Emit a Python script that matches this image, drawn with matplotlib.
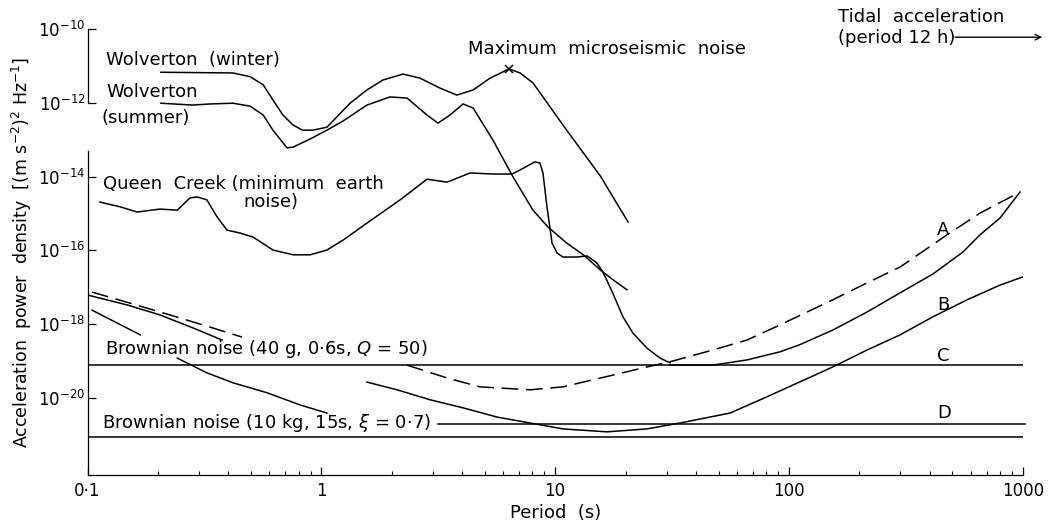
import numpy as np
import matplotlib
matplotlib.use("Agg")
import matplotlib.pyplot as plt
from matplotlib.ticker import FixedLocator, FixedFormatter, LogLocator, NullFormatter

plt.rcParams['font.family'] = ['DejaVu Sans']
plt.rcParams['mathtext.fontset'] = 'dejavusans'

# periods in s, power densities as log10 of (m s^-2)^2 Hz^-1
winter_period = [0.206, 0.419, 0.496, 0.564, 0.621, 0.685, 0.757, 0.83, 0.92, 1.057, 1.122, 1.327,
                 1.567, 1.836, 2.235, 2.642, 3.219, 3.8, 4.46, 5.27, 6.35, 7.08, 8.04, 11.2, 15.6, 20.5]
winter_log = [-11.17, -11.19, -11.29, -11.51, -11.92, -12.33, -12.60, -12.74, -12.74, -12.66, -12.49,
              -12.01, -11.65, -11.38, -11.22, -11.33, -11.60, -11.79, -11.65, -11.33, -11.08, -11.19,
              -11.46, -12.74, -13.98, -15.23]

summer_period = [0.206, 0.282, 0.334, 0.419, 0.496, 0.564, 0.621, 0.713, 0.757, 0.896, 1.057, 1.24,
                 1.567, 1.967, 2.326, 2.831, 3.155, 3.55, 4.04, 4.46, 5.42, 6.61, 8.04, 9.33, 11.2,
                 13.2, 15.6, 17.7, 20.3]
summer_log = [-12.01, -12.06, -12.03, -12.01, -12.09, -12.33, -12.74, -13.22, -13.20, -12.98, -12.74,
              -12.49, -12.06, -11.84, -11.87, -12.33, -12.55, -12.33, -12.03, -12.14, -13.01, -14.01,
              -14.91, -15.37, -15.80, -16.12, -16.53, -16.80, -17.07]

queen_period = [0.113, 0.138, 0.163, 0.204, 0.242, 0.274, 0.294, 0.324, 0.358, 0.395, 0.449, 0.511,
                0.621, 0.757, 0.896, 1.057, 1.24, 1.567, 2.173, 2.831, 3.45, 4.33, 5.42, 6.54, 7.08,
                8.2, 8.61, 8.87, 9.23, 9.7, 10.19, 10.8, 12.4, 13.7, 15.1, 16.0, 16.7, 17.7, 19.5,
                21.5, 24.7, 28.1, 31.0]
queen_log = [-14.69, -14.82, -14.96, -14.88, -14.91, -14.58, -14.55, -14.63, -15.09, -15.45, -15.53,
             -15.64, -15.99, -16.12, -16.12, -15.99, -15.72, -15.26, -14.63, -14.07, -14.15, -13.90,
             -13.93, -13.93, -13.82, -13.60, -13.63, -13.90, -14.82, -15.80, -16.07, -16.18, -16.18,
             -16.15, -16.34, -16.59, -16.83, -17.18, -17.80, -18.24, -18.65, -18.92, -19.05]

# solid curve rising from line C towards long periods
total_period = [31.0, 47.3, 66.2, 91.6, 111, 154, 216, 299, 413, 556, 656, 800, 973]
total_log = [-19.11, -19.11, -18.97, -18.75, -18.56, -18.16, -17.67, -17.15, -16.64, -16.04,
             -15.58, -15.12, -14.42]

# curve A (dashed)
a_left_period = [0.1045, 0.152, 0.225, 0.334, 0.458]
a_left_log = [-17.13, -17.43, -17.75, -18.08, -18.35]
a_period = [2.326, 3.45, 4.77, 7.81, 10.8, 17.7, 24.7, 31.0, 47.3, 66.2, 91.6, 154, 216, 299,
            474, 656, 973]
a_log = [-19.11, -19.46, -19.70, -19.78, -19.70, -19.38, -19.16, -19.02, -18.70, -18.43, -18.02,
         -17.34, -16.88, -16.45, -15.58, -14.99, -14.42]

# curve B (solid)
b_left_period = [0.1, 0.148, 0.204, 0.282, 0.376]
b_left_log = [-17.21, -17.48, -17.75, -18.10, -18.43]
b_period = [1.567, 2.108, 2.917, 4.04, 5.65, 7.81, 10.8, 16.7, 24.7, 34.2, 56.0, 80.5, 111, 154,
            216, 299, 413, 578, 800, 1000]
b_log = [-19.57, -19.78, -20.05, -20.27, -20.52, -20.68, -20.84, -20.92, -20.84, -20.68, -20.41,
         -19.97, -19.57, -19.16, -18.70, -18.29, -17.80, -17.34, -16.94, -16.72]

# short falling solid curves at short periods
c1_period = [0.1045, 0.134, 0.168]
c1_log = [-17.62, -17.97, -18.29]
c2_period = [0.242, 0.324, 0.419, 0.586, 0.811, 1.057]
c2_log = [-18.92, -19.32, -19.59, -19.86, -20.19, -20.41]

# horizontal levels
level_c = -19.11
level_d = -20.70
level_brown10 = -21.05
d_start = 3.15

ticks_x = [0.1, 1, 10, 100, 1000]
ticks_x_labels = ['0·1', '1', '10', '100', '1000']
ticks_y_exp = [-20, -18, -16, -14, -12, -10]
# pieces of the left axis line that show in the print (log10 ends)
left_axis_parts = [(-10.0, -12.0), (-13.3, -22.09)]

fig = plt.figure(figsize=(10.48, 5.24), dpi=100)
ax = fig.add_axes([0.0835, 0.0935, 0.8924, 0.851])
ax.set_xscale('log')
ax.set_yscale('log')
ax.set_xlim(0.1, 1000)
ax.set_ylim(10 ** -22.09, 1e-10)

lw = 1.1
col = 'black'


def draw(p, lg, **kw):
    ax.plot(p, 10.0 ** np.array(lg), color=col, lw=lw, **kw)


draw(winter_period, winter_log)
draw(summer_period, summer_log)
draw(queen_period, queen_log)
draw(total_period, total_log)
draw(a_left_period, a_left_log, dashes=(11, 5))
draw(a_period, a_log, dashes=(11, 5))
draw(b_left_period, b_left_log)
draw(b_period, b_log)
draw(c1_period, c1_log)
draw(c2_period, c2_log)

ax.plot([0.1, 1000], [10 ** level_c] * 2, color=col, lw=lw)
ax.plot([d_start, 1023], [10 ** level_d] * 2, color=col, lw=lw, clip_on=False)
ax.plot([0.1, 1000], [10 ** level_brown10] * 2, color=col, lw=lw)

# maximum microseismic noise marker
peak = int(np.argmax(winter_log))
ax.plot(winter_period[peak], 10 ** winter_log[peak], marker='x', ms=6, mew=1.1, color=col)

fs = 13
tkw = dict(fontsize=fs, color=col, va='center', ha='left')
ax.text(0.12, 10 ** -10.84, 'Wolverton  (winter)', **tkw)
ax.text(0.12, 10 ** -11.71, 'Wolverton', **tkw)
ax.text(0.115, 10 ** -12.41, '(summer)', **tkw)
ax.text(0.116, 10 ** -14.20, 'Queen  Creek (minimum  earth', **tkw)
ax.text(0.463, 10 ** -14.70, 'noise)', **tkw)
ax.text(4.25, 10 ** -10.54, 'Maximum  microseismic  noise', **tkw)
ax.text(162, 10 ** -9.67, 'Tidal  acceleration', clip_on=False, **tkw)
ax.text(162, 10 ** -10.24, '(period 12 h)', clip_on=False, **tkw)
ax.annotate('', xy=(1245, 10 ** -10.22), xytext=(500, 10 ** -10.22),
            arrowprops=dict(arrowstyle='->', color=col, lw=1.0), annotation_clip=False)
ax.text(0.119, 10 ** -18.67, 'Brownian noise (40 g, 0·6s, $\\mathit{Q}$ = 50)', **tkw)
ax.text(0.115, 10 ** -20.68, 'Brownian noise (10 kg, 15s, $\\xi$ = 0·7)', **tkw)
for lab, xp, yl in [('A', 456, -15.45), ('B', 456, -17.48), ('C', 456, -18.86), ('D', 460, -20.41)]:
    ax.text(xp, 10 ** yl, lab, fontsize=fs, color=col, ha='center', va='center')

# axes styling
for s in ['top', 'right', 'left']:
    ax.spines[s].set_visible(False)
ax.spines['bottom'].set_linewidth(0.9)
for lo, hi in left_axis_parts:
    ax.plot([0.1, 0.1], [10 ** lo, 10 ** hi], color=col, lw=0.9, clip_on=False)

ax.xaxis.set_major_locator(FixedLocator(ticks_x))
ax.xaxis.set_major_formatter(FixedFormatter(ticks_x_labels))
ax.xaxis.set_minor_locator(LogLocator(base=10, subs=np.arange(2, 10)))
ax.xaxis.set_minor_formatter(NullFormatter())
ax.yaxis.set_major_locator(FixedLocator([10.0 ** e for e in ticks_y_exp]))
ax.yaxis.set_major_formatter(FixedFormatter(['$10^{%d}$' % e for e in ticks_y_exp]))
ax.yaxis.set_minor_locator(FixedLocator([]))
ax.tick_params(axis='x', which='major', direction='in', length=6, width=0.9, labelsize=12, pad=5)
ax.tick_params(axis='x', which='minor', direction='in', length=3, width=0.8)
ax.tick_params(axis='y', which='major', direction='in', length=6, width=0.9, labelsize=12, pad=1.5)

ax.set_xlabel('Period  (s)', fontsize=13, labelpad=3)
ax.set_ylabel('Acceleration  power  density  [(m s$^{-2}$)$^2$ Hz$^{-1}$]', fontsize=12.5, labelpad=3)

fig.savefig('out.png', dpi=100)
